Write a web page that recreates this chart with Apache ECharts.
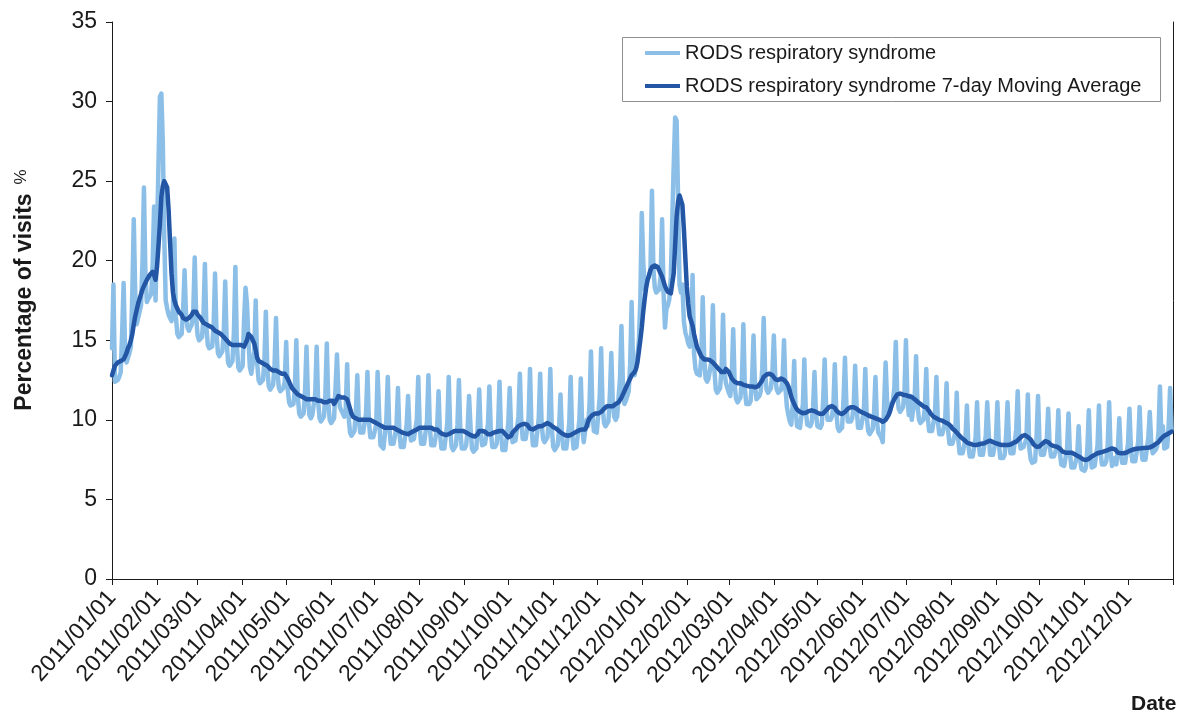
<!DOCTYPE html>
<html>
<head>
<meta charset="utf-8">
<title>RODS respiratory syndrome</title>
<script src="https://cdn.jsdelivr.net/npm/echarts@6/dist/echarts.min.js"></script>
<style>
  html, body { margin: 0; padding: 0; background: #ffffff; }
  #chart { width: 1184px; height: 720px; }
</style>
</head>
<body>
<div id="chart"></div>
<script>
// Series names shown in the legend
const seriesNames = ['RODS respiratory syndrome', 'RODS respiratory syndrome 7-day Moving Average'];

// Axis titles
const yTitle = 'Percentage of visits';
const yUnit = '%';
const xTitle = 'Date';

// Date range of the daily axis (last date only carries the closing tick)
const firstDate = [2011, 1, 1];
const closingDate = [2013, 1, 1];

// Daily percentage of visits, 2011/01/01 - 2012/12/31, one line per week (Sat..Fri)
const dailyPct = [
  14.5,18.5,12.4,12.3,12.5,12.7,13.0,
  15.5,18.6,14.5,13.6,13.9,14.2,14.6,
  18.0,22.6,18.0,16.0,16.4,16.8,17.2,
  19.9,24.6,19.3,17.4,17.6,17.7,17.9,
  19.8,23.4,17.5,21.5,26.0,30.3,30.5,
  27.5,21.5,17.5,17.0,16.6,16.4,16.2,
  17.0,21.4,16.5,15.4,15.2,15.3,15.4,
  16.9,19.4,16.6,15.8,15.6,15.8,16.0,
  16.9,20.2,16.4,15.3,15.0,14.9,15.2,
  16.4,19.8,15.9,14.7,14.5,14.6,14.6,
  15.9,19.2,15.4,14.2,14.0,14.1,14.3,
  15.4,18.7,14.9,13.6,13.4,13.5,13.7,
  15.5,19.6,14.8,13.3,13.1,13.2,13.4,
  16.3,18.3,17.3,15.0,13.3,12.9,12.9,
  14.3,17.5,13.6,12.5,12.3,12.4,12.5,
  13.7,16.8,13.2,12.1,11.9,12.0,12.2,
  13.5,16.4,13.0,12.0,11.8,11.8,12.0,
  12.4,14.9,12.0,11.1,10.9,10.9,11.0,
  12.0,15.0,11.5,10.4,10.2,10.3,10.4,
  11.8,14.6,11.4,10.3,10.1,10.3,10.4,
  11.6,14.6,11.2,10.1,9.9,10.0,10.2,
  11.6,14.8,11.1,10.0,9.8,9.9,10.1,
  12.0,14.1,11.6,10.8,10.6,10.5,10.2,
  10.6,13.5,10.2,9.2,9.0,9.1,9.3,
  10.5,12.8,10.1,9.2,9.1,9.2,9.3,
  10.4,13.0,9.9,8.9,8.8,8.9,9.0,
  9.7,13.0,10.5,8.4,8.3,8.2,8.3,
  10.0,12.7,9.6,8.5,8.4,8.5,8.6,
  9.6,12.0,9.2,8.3,8.2,8.3,8.4,
  9.7,11.5,9.4,8.7,8.6,8.8,8.8,
  10.0,12.7,9.6,8.5,8.4,8.5,8.6,
  9.9,12.8,9.5,8.4,8.3,8.4,8.5,
  9.5,11.8,9.1,8.2,8.1,8.2,8.3,
  9.8,12.7,9.4,8.3,8.1,8.2,8.4,
  9.7,12.5,9.3,8.2,8.1,8.2,8.4,
  9.4,11.5,9.6,8.2,8.0,8.1,8.2,
  9.6,11.9,9.2,8.4,8.3,8.5,8.6,
  9.7,12.1,9.3,8.3,8.2,8.3,8.5,
  9.6,12.4,9.2,8.1,8.0,8.1,8.2,
  9.8,12.0,9.4,8.6,8.5,8.7,8.8,
  10.2,12.9,9.9,8.8,8.7,8.8,8.9,
  10.1,13.2,9.6,8.4,8.3,8.4,8.5,
  10.1,12.9,9.8,8.8,8.6,8.7,8.9,
  10.0,13.2,9.5,8.3,8.1,8.2,8.4,
  9.4,11.6,9.1,8.2,8.1,8.2,8.3,
  9.7,12.7,9.3,8.2,8.1,8.3,8.4,
  10.0,12.6,9.5,8.6,8.7,10.0,9.6,
  11.0,14.3,10.5,9.3,9.2,9.2,9.3,
  11.4,14.5,10.9,9.8,9.6,9.7,9.9,
  11.5,14.2,11.2,10.2,10.0,10.2,10.3,
  12.6,15.9,12.3,11.0,11.2,11.5,11.8,
  13.5,17.4,13.5,12.8,13.3,14.0,15.0,
  17.5,23.0,20.0,18.2,18.6,18.8,19.0,
  19.5,24.4,19.5,18.3,18.0,18.0,18.2,
  19.0,22.6,18.0,15.8,17.0,17.2,17.6,
  19.0,22.5,26.0,29.0,28.8,24.0,18.5,
  18.0,18.5,16.2,15.5,15.2,14.8,14.6,
  14.8,19.1,14.2,13.2,12.9,12.8,12.8,
  13.9,17.7,13.9,12.6,12.4,12.6,12.7,
  13.7,17.2,13.2,11.9,11.7,11.8,12.0,
  13.3,16.6,13.0,12.3,12.0,11.7,11.5,
  12.8,15.7,12.2,11.3,11.1,11.2,11.4,
  12.6,16.0,12.0,11.0,10.9,11.0,11.2,
  12.6,15.3,12.2,11.3,11.3,11.5,11.8,
  13.2,16.4,12.9,11.9,11.7,11.8,12.0,
  13.0,15.3,12.6,11.9,11.7,11.8,11.9,
  12.5,15.0,12.0,10.8,10.3,9.9,9.7,
  11.0,13.7,10.6,9.6,9.5,9.5,9.6,
  11.0,13.8,10.6,9.7,9.6,9.6,9.8,
  10.8,13.0,10.4,9.6,9.5,9.5,9.7,
  11.3,13.8,10.9,10.0,9.9,10.0,10.2,
  10.9,13.5,10.5,9.5,9.3,9.4,9.5,
  11.3,13.9,10.9,9.9,9.8,9.9,10.1,
  10.9,13.4,10.9,9.5,9.4,9.5,9.6,
  10.6,13.2,10.2,9.3,9.1,9.2,9.4,
  10.4,12.7,9.9,9.2,9.1,8.9,8.6,
  11.0,13.6,11.2,10.3,10.5,11.0,11.2,
  12.0,14.9,11.6,10.7,10.5,10.6,10.8,
  11.8,15.0,11.4,10.3,11.5,10.0,10.0,
  11.3,14.0,10.9,10.0,9.8,9.9,10.0,
  10.7,13.2,10.2,9.3,9.2,9.3,9.4,
  10.4,12.7,9.9,9.1,9.0,9.1,9.2,
  9.9,12.3,9.4,8.5,8.4,8.5,8.6,
  9.2,11.7,8.8,7.9,7.8,7.9,8.0,
  8.8,10.9,8.4,7.7,7.6,7.7,7.8,
  8.9,11.1,8.6,7.8,7.7,7.8,7.9,
  9.0,11.1,9.2,7.8,7.7,7.8,7.9,
  8.8,11.1,8.5,7.6,7.5,7.6,7.8,
  9.0,11.1,8.7,7.9,7.8,7.9,8.0,
  9.4,11.8,9.0,8.2,8.2,8.3,8.2,
  8.8,11.6,8.2,7.5,7.3,7.3,7.4,
  9.0,11.5,8.7,7.8,7.7,7.8,7.9,
  8.7,10.7,8.4,7.7,7.6,7.7,7.7,
  8.3,10.6,8.0,7.2,7.1,7.1,7.2,
  8.2,10.4,7.9,7.0,6.9,7.0,7.1,
  7.8,9.6,7.5,6.9,6.8,6.8,7.0,
  8.2,10.6,7.9,7.0,7.0,7.1,7.2,
  8.4,10.9,8.1,7.2,7.1,7.2,7.4,
  8.4,11.1,8.0,7.1,7.0,7.6,7.2,
  8.2,10.1,7.9,7.3,7.2,7.3,7.4,
  8.5,10.7,8.2,7.4,7.3,7.4,7.5,
  8.6,10.8,8.3,7.5,7.4,7.5,7.6,
  8.9,10.5,8.6,7.9,8.0,8.1,8.3,
  9.2,12.1,8.8,9.6,8.2,8.3,8.3,
  9.6,12.0,9.4
];

// 7-day moving average, same days, one line per week (Sat..Fri)
const movingAvg = [
  12.8,13.1,13.4,13.5,13.6,13.6,13.7,
  13.7,13.8,14.0,14.2,14.5,14.7,15.0,
  15.4,16.0,16.5,16.9,17.3,17.6,17.9,
  18.2,18.4,18.6,18.8,18.9,19.1,19.2,
  19.3,19.1,18.8,19.6,20.9,22.3,24.0,
  24.7,25.0,25.1,24.6,23.2,21.2,19.2,
  18.0,17.5,17.2,17.0,16.8,16.7,16.6,
  16.4,16.3,16.3,16.4,16.4,16.5,16.6,
  16.8,16.9,16.8,16.6,16.5,16.4,16.3,
  16.1,16.0,16.0,15.9,15.9,15.8,15.8,
  15.7,15.6,15.6,15.5,15.4,15.4,15.3,
  15.2,15.1,15.0,14.9,14.8,14.8,14.7,
  14.7,14.7,14.7,14.7,14.7,14.7,14.7,
  14.6,14.6,15.0,15.4,15.3,15.2,15.0,
  14.8,14.4,13.9,13.7,13.6,13.6,13.6,
  13.5,13.5,13.4,13.3,13.2,13.2,13.1,
  13.1,13.1,13.0,13.0,13.0,12.9,12.9,
  12.9,12.8,12.6,12.4,12.2,12.0,11.9,
  11.8,11.7,11.6,11.6,11.5,11.5,11.4,
  11.3,11.3,11.3,11.3,11.3,11.3,11.3,
  11.3,11.3,11.2,11.2,11.2,11.1,11.1,
  11.1,11.1,11.2,11.2,11.3,11.2,11.0,
  11.1,11.3,11.5,11.5,11.4,11.4,11.4,
  11.4,11.3,11.0,10.7,10.4,10.2,10.1,
  10.1,10.1,10.0,10.0,10.0,10.0,10.0,
  10.0,10.0,10.0,10.0,9.9,9.9,9.9,
  9.8,9.8,9.7,9.6,9.6,9.5,9.5,
  9.5,9.5,9.5,9.5,9.5,9.5,9.5,
  9.4,9.4,9.3,9.3,9.2,9.2,9.15,
  9.1,9.1,9.2,9.2,9.2,9.3,9.35,
  9.4,9.5,9.5,9.5,9.5,9.5,9.5,
  9.5,9.5,9.5,9.5,9.4,9.4,9.4,
  9.4,9.3,9.2,9.1,9.1,9.05,9.05,
  9.1,9.1,9.2,9.2,9.3,9.3,9.3,
  9.3,9.3,9.3,9.3,9.3,9.2,9.2,
  9.1,9.1,9.05,9.0,9.0,8.95,9.0,
  9.1,9.3,9.35,9.3,9.3,9.25,9.2,
  9.1,9.05,9.1,9.15,9.2,9.25,9.25,
  9.3,9.3,9.3,9.3,9.2,9.1,9.0,
  8.9,8.85,9.0,9.2,9.3,9.4,9.5,
  9.6,9.6,9.7,9.7,9.75,9.75,9.7,
  9.6,9.45,9.4,9.4,9.5,9.5,9.55,
  9.6,9.6,9.6,9.65,9.7,9.75,9.8,
  9.8,9.7,9.65,9.55,9.5,9.45,9.4,
  9.3,9.2,9.15,9.1,9.05,9.0,9.0,
  9.0,9.05,9.1,9.15,9.2,9.25,9.3,
  9.35,9.4,9.4,9.4,9.4,9.6,9.9,
  10.1,10.2,10.3,10.35,10.4,10.4,10.4,
  10.45,10.5,10.6,10.7,10.8,10.85,10.85,
  10.85,10.85,10.85,10.9,11.0,11.05,11.1,
  11.2,11.4,11.6,11.8,12.0,12.2,12.4,
  12.6,12.8,12.9,13.0,13.2,13.6,14.3,
  15.0,15.8,16.8,17.6,18.3,18.8,19.1,
  19.4,19.6,19.7,19.7,19.6,19.6,19.4,
  19.2,19.0,18.7,18.4,18.2,18.05,18.0,
  17.95,18.0,19.2,21.0,22.8,23.7,24.1,
  24.0,23.5,22.0,20.2,18.4,17.3,16.5,
  16.2,15.9,15.4,15.0,14.6,14.4,14.2,
  14.0,13.9,13.8,13.8,13.8,13.8,13.75,
  13.7,13.6,13.5,13.4,13.3,13.2,13.1,
  13.0,12.9,13.0,13.2,13.2,13.0,12.8,
  12.6,12.5,12.4,12.35,12.3,12.3,12.3,
  12.25,12.2,12.2,12.15,12.15,12.1,12.1,
  12.1,12.05,12.05,12.05,12.1,12.2,12.35,
  12.5,12.7,12.8,12.85,12.9,12.9,12.85,
  12.8,12.7,12.55,12.45,12.5,12.55,12.6,
  12.55,12.5,12.4,12.3,12.1,11.8,11.45,
  11.2,11.0,10.8,10.65,10.55,10.5,10.45,
  10.42,10.4,10.45,10.5,10.55,10.6,10.6,
  10.6,10.55,10.5,10.45,10.4,10.37,10.37,
  10.4,10.5,10.6,10.7,10.8,10.85,10.87,
  10.85,10.75,10.6,10.5,10.42,10.38,10.37,
  10.4,10.5,10.6,10.7,10.75,10.8,10.83,
  10.8,10.75,10.7,10.6,10.55,10.5,10.46,
  10.42,10.38,10.33,10.28,10.24,10.2,10.17,
  10.14,10.1,10.06,10.03,10.0,9.95,9.88,
  9.9,10.0,10.15,10.3,10.55,10.85,11.1,
  11.3,11.45,11.6,11.67,11.65,11.6,11.58,
  11.56,11.55,11.5,11.48,11.46,11.44,11.4,
  11.3,11.2,11.14,11.05,11.0,10.92,10.85,
  10.8,10.78,10.7,10.55,10.4,10.3,10.2,
  10.16,10.1,10.05,10.0,9.97,9.95,9.9,
  9.85,9.8,9.76,9.7,9.6,9.45,9.35,
  9.3,9.2,9.1,9.0,8.9,8.82,8.75,
  8.65,8.58,8.53,8.5,8.47,8.44,8.42,
  8.42,8.42,8.45,8.48,8.5,8.52,8.53,
  8.57,8.62,8.66,8.69,8.65,8.6,8.56,
  8.53,8.5,8.47,8.44,8.42,8.42,8.42,
  8.42,8.42,8.42,8.45,8.5,8.55,8.6,
  8.63,8.7,8.8,8.9,8.98,9.05,9.05,
  9.0,8.92,8.84,8.76,8.6,8.45,8.33,
  8.31,8.31,8.33,8.4,8.5,8.6,8.66,
  8.66,8.6,8.5,8.42,8.38,8.35,8.33,
  8.31,8.3,8.2,8.1,8.0,7.95,7.94,
  7.94,7.94,7.94,7.94,7.9,7.85,7.8,
  7.75,7.72,7.65,7.58,7.52,7.49,7.48,
  7.5,7.55,7.62,7.7,7.75,7.8,7.85,
  7.9,7.92,7.95,7.98,8.0,8.03,8.06,
  8.1,8.14,8.18,8.2,8.21,8.15,8.05,
  7.94,7.92,7.9,7.9,7.9,7.92,7.95,
  8.0,8.05,8.1,8.12,8.15,8.17,8.18,
  8.2,8.21,8.21,8.22,8.23,8.24,8.25,
  8.26,8.27,8.3,8.35,8.42,8.48,8.53,
  8.6,8.7,8.84,8.92,9.0,9.05,9.1,
  9.15,9.2,9.26
];

// Category labels: one per day, formatted YYYY/MM/DD
function buildDays(from, to) {
  const out = [];
  const pad = n => (n < 10 ? '0' : '') + n;
  let t = Date.UTC(from[0], from[1] - 1, from[2]);
  const end = Date.UTC(to[0], to[1] - 1, to[2]);
  while (t <= end) {
    const d = new Date(t);
    out.push(d.getUTCFullYear() + '/' + pad(d.getUTCMonth() + 1) + '/' + pad(d.getUTCDate()));
    t += 86400000;
  }
  return out;
}
const days = buildDays(firstDate, closingDate);
const closingLabel = days[days.length - 1];
const isMonthStart = v => v.slice(-3) === '/01';

const FONT = '"Liberation Sans", Arial, Helvetica, sans-serif';
const AXIS_COLOR = '#1a1a1a';
const TEXT_COLOR = '#1a1a1a';
const LIGHT = '#8cbfe7';
const DARK = '#2356a5';

const chart = echarts.init(document.getElementById('chart'), null, { renderer: 'canvas' });
chart.setOption({
  animation: false,
  backgroundColor: '#ffffff',
  textStyle: { fontFamily: FONT },
  grid: { left: 112, top: 22, right: 11, bottom: 141, containLabel: false },
  legend: {
    show: true,
    orient: 'vertical',
    left: 640,
    top: 38,
    icon: 'rect',
    itemWidth: 35,
    itemHeight: 4,
    itemGap: 13,
    z: 10,
    textStyle: { fontFamily: FONT, fontSize: 20, color: TEXT_COLOR },
    data: seriesNames
  },
  graphic: [
    {
      type: 'rect', z: 1,
      shape: { x: 622.5, y: 37.5, width: 538, height: 64 },
      style: { fill: '#ffffff', stroke: '#8f8f8f', lineWidth: 1 }
    },
    {
      type: 'text', z: 5, x: 25, y: 302, rotation: Math.PI / 2,
      style: {
        text: yTitle, fontFamily: FONT, fontSize: 23, fontWeight: 'bold',
        fill: TEXT_COLOR, align: 'center', verticalAlign: 'middle'
      }
    },
    {
      type: 'text', z: 5, x: 21, y: 177, rotation: Math.PI / 2,
      style: {
        text: yUnit, fontFamily: FONT, fontSize: 17,
        fill: TEXT_COLOR, align: 'center', verticalAlign: 'middle'
      }
    },
    {
      type: 'text', z: 5, x: 1131, y: 704,
      style: {
        text: xTitle, fontFamily: FONT, fontSize: 21, fontWeight: 'bold',
        fill: TEXT_COLOR, align: 'left', verticalAlign: 'middle'
      }
    }
  ],
  xAxis: {
    type: 'category',
    data: days,
    boundaryGap: false,
    axisLine: { show: true, lineStyle: { color: AXIS_COLOR, width: 1 } },
    axisTick: {
      show: true, inside: false, length: 6,
      interval: (i, v) => isMonthStart(v),
      lineStyle: { color: AXIS_COLOR }
    },
    axisLabel: {
      show: true, rotate: 48, margin: 15,
      interval: (i, v) => isMonthStart(v) && v !== closingLabel,
      fontFamily: FONT, fontSize: 23, color: TEXT_COLOR
    },
    splitLine: { show: false }
  },
  yAxis: [
    {
      type: 'value', min: 0, max: 35, interval: 5,
      axisLine: { show: true, lineStyle: { color: AXIS_COLOR, width: 1 } },
      axisTick: { show: true, inside: false, length: 6, lineStyle: { color: AXIS_COLOR } },
      axisLabel: { margin: 15, fontFamily: FONT, fontSize: 23, color: TEXT_COLOR },
      splitLine: { show: false }
    },
    {
      type: 'value', min: 0, max: 35, interval: 5, position: 'right',
      axisLine: { show: true, onZero: false, lineStyle: { color: AXIS_COLOR, width: 1 } },
      axisTick: { show: false }, axisLabel: { show: false }, splitLine: { show: false }
    }
  ],
  series: [
    {
      name: seriesNames[0], type: 'line', data: dailyPct,
      showSymbol: false, symbol: 'none', z: 2,
      itemStyle: { color: LIGHT },
      lineStyle: { color: LIGHT, width: 4.5, cap: 'round', join: 'round' }
    },
    {
      name: seriesNames[1], type: 'line', data: movingAvg,
      showSymbol: false, symbol: 'none', z: 3,
      itemStyle: { color: DARK },
      lineStyle: { color: DARK, width: 4.5, cap: 'round', join: 'round' }
    }
  ]
});
</script>
</body>
</html>
